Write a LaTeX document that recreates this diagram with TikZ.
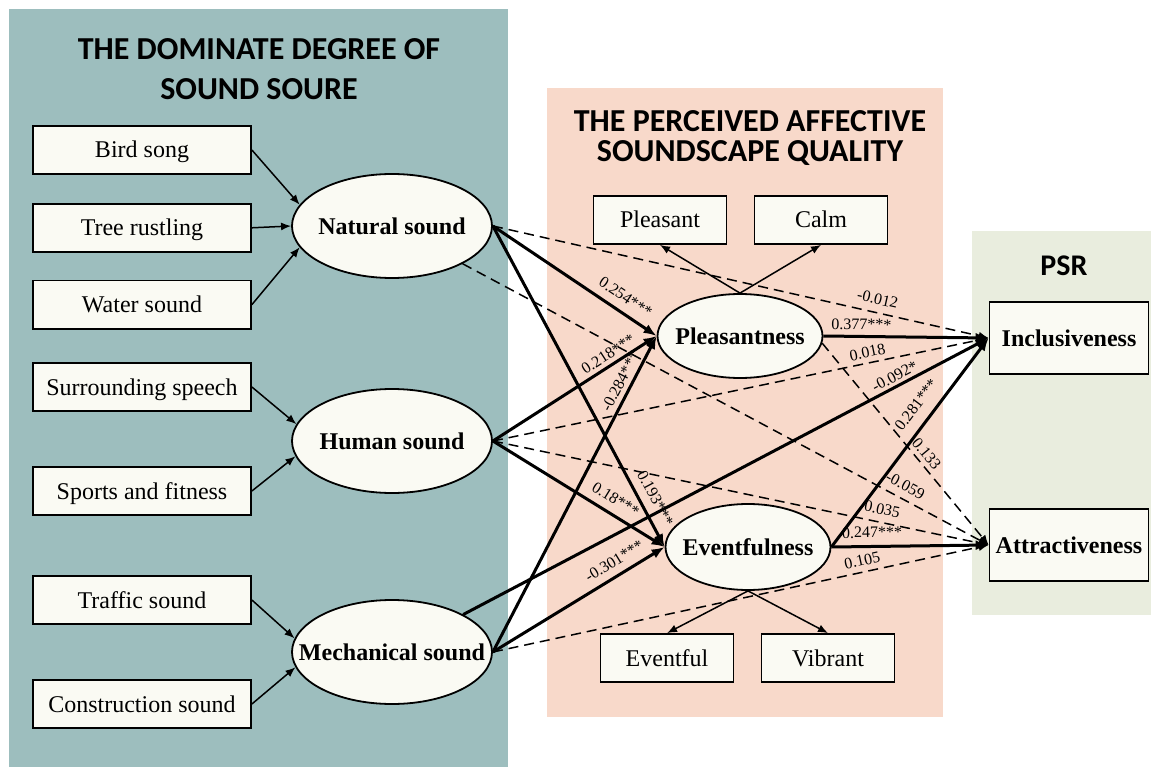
\documentclass[tikz,border=0pt]{standalone}
\usepackage{fontspec}
\setmainfont{Liberation Serif}
\newfontfamily\headfont{Carlito}
\usetikzlibrary{arrows.meta, positioning, shapes.geometric}

\definecolor{sourcebg}{RGB}{157,190,190}
\definecolor{qualitybg}{RGB}{248,217,202}
\definecolor{psrbg}{RGB}{233,237,222}
\definecolor{boxfill}{RGB}{250,250,243}
\newcommand{\slim}[1]{\makebox[0pt]{#1}}

\begin{document}
\begin{tikzpicture}[
    x=1pt, y=-1pt,
    obs/.style={draw, line width=1.8pt, fill=boxfill, minimum width=218pt,
                minimum height=48pt, inner sep=0pt, text height=18pt,
                text depth=2pt, font=\fontsize{24}{28}\selectfont},
    ind/.style={obs, minimum width=133pt},
    outc/.style={obs, minimum width=159pt, minimum height=72pt,
                 font=\fontsize{24}{28}\selectfont\bfseries},
    lat/.style={draw, ellipse, line width=1.8pt, fill=boxfill,
                minimum width=200pt, minimum height=104pt, inner sep=0pt,
                font=\fontsize{24}{28}\selectfont\bfseries},
    med/.style={lat, minimum width=165pt, minimum height=84pt},
    head/.style={align=center, font=\headfont\bfseries\fontsize{32}{40}\selectfont},
    coef/.style={sloped, above=5pt, inner sep=1pt, font=\fontsize{16}{18}\selectfont},
    load/.style={->, line width=1.5pt},
    sig/.style={-{Latex[length=13pt, width=10pt]}, line width=3pt},
    ns/.style={->, line width=1.5pt, dash pattern=on 10pt off 6pt},
    >={Latex[length=10pt, width=8pt]}
  ]
  \useasboundingbox (0,0) rectangle (1151,767);

  % Panels
  \fill[sourcebg] (9,9) rectangle (508,767);
  \fill[qualitybg] (547,88) rectangle (943,717);
  \fill[psrbg] (972,231) rectangle (1151,615);

  \node[head] (srchead) at (259,69) {THE DOMINATE DEGREE OF\\SOUND SOURE};
  \node[head, font=\headfont\bfseries\fontsize{32}{30}\selectfont]
    (qualhead) at (750,138) {THE PERCEIVED AFFECTIVE\\SOUNDSCAPE QUALITY};
  \node[head, font=\headfont\bfseries\fontsize{30}{36}\selectfont]
    (psrhead) at (1064,266) {PSR};

  % Sound sources
  \node[obs] (bird) at (142,150) {Bird song};
  \node[obs, below=28pt of bird] (tree) {Tree rustling};
  \node[obs, below=27pt of tree] (water) {Water sound};
  \node[obs] (speech) at (142,387) {Surrounding speech};
  \node[obs] (sport) at (142,491) {Sports and fitness};
  \node[obs] (traffic) at (142,600) {Traffic sound};
  \node[obs] (build) at (142,704) {Construction sound};

  \node[lat] (nat) at (392,226) {\slim{Natural sound}};
  \node[lat] (hum) at (392,441) {\slim{Human sound}};
  \node[lat] (mech) at (392,652) {\slim{Mechanical sound}};

  % Affective quality
  \node[med] (pls) at (740,336) {\slim{Pleasantness}};
  \node[med, minimum height=86pt] (evt) at (748,547) {\slim{Eventfulness}};
  \node[ind] (pleasant) at (660,220) {Pleasant};
  \node[ind] (calm) at (821,220) {Calm};
  \node[ind] (eventful) at (667,658) {Eventful};
  \node[ind] (vibrant) at (828,658) {Vibrant};

  % PSR
  \node[outc] (incl) at (1069,338) {Inclusiveness};
  \node[outc] (attr) at (1069,545) {Attractiveness};

  % Measurement arrows
  \foreach \s/\a in {bird/167, tree/180, water/193}
    \draw[load] (\s.east) -- (nat.\a);
  \foreach \s/\a in {speech/170, sport/189}
    \draw[load] (\s.east) -- (hum.\a);
  \foreach \s/\a in {traffic/172, build/189}
    \draw[load] (\s.east) -- (mech.\a);
  \foreach \t in {pleasant, calm}
    \draw[load] (pls.north) -- (\t.south);
  \foreach \t in {eventful, vibrant}
    \draw[load] (evt.south) -- (\t.north);

  % Sources to affective quality
  \draw[sig] (nat.east) -- node[coef, pos=0.76, above=7pt] {0.254***} (pls.west);
  \draw[sig] (nat.east) -- node[coef, pos=0.87, above=7pt] {0.193***} (evt.west);
  \draw[sig] (hum.east) -- node[coef, pos=0.74, above=3pt] {0.218***} (pls.west);
  \draw[sig] (hum.east) -- node[coef, pos=0.67, above=7pt] {0.18***} (evt.west);
  \draw[sig] (mech.east) -- node[coef, pos=0.84, above=3.5pt] {-0.284***} (pls.west);
  \draw[sig] (mech.east) -- node[coef, pos=0.75, above=6.5pt] {-0.301***} (evt.west);

  % Paths to PSR
  \draw[ns] (nat.east) -- node[coef, pos=0.77, above=6.5pt] {-0.012} (incl.west);
  \draw[ns] (nat) -- node[coef, pos=0.83, above=6pt] {-0.059} (attr.west);
  \draw[ns] (hum.east) -- node[coef, pos=0.76, above=3.5pt] {0.018} (incl.west);
  \draw[ns] (hum.east) -- node[coef, pos=0.78, above=6pt] {0.035} (attr.west);
  \draw[sig] (mech) -- node[coef, pos=0.83, above=2pt] {-0.092*} (incl.west);
  \draw[ns] (mech.east) -- node[coef, pos=0.75, above=4.5pt] {0.105} (attr.west);
  \draw[sig] (pls.east) -- node[coef, pos=0.23, above=4pt] {0.377***} (incl.west);
  \draw[ns] (pls.-5) -- node[coef, pos=0.58, above=3pt] {0.133} (attr.west);
  \draw[sig] (evt.east) -- node[coef, pos=0.63, above=10pt] {0.281***} (incl.west);
  \draw[sig] (evt.east) -- node[coef, pos=0.26, above=6pt] {0.247***} (attr.west);

\end{tikzpicture}
\end{document}
